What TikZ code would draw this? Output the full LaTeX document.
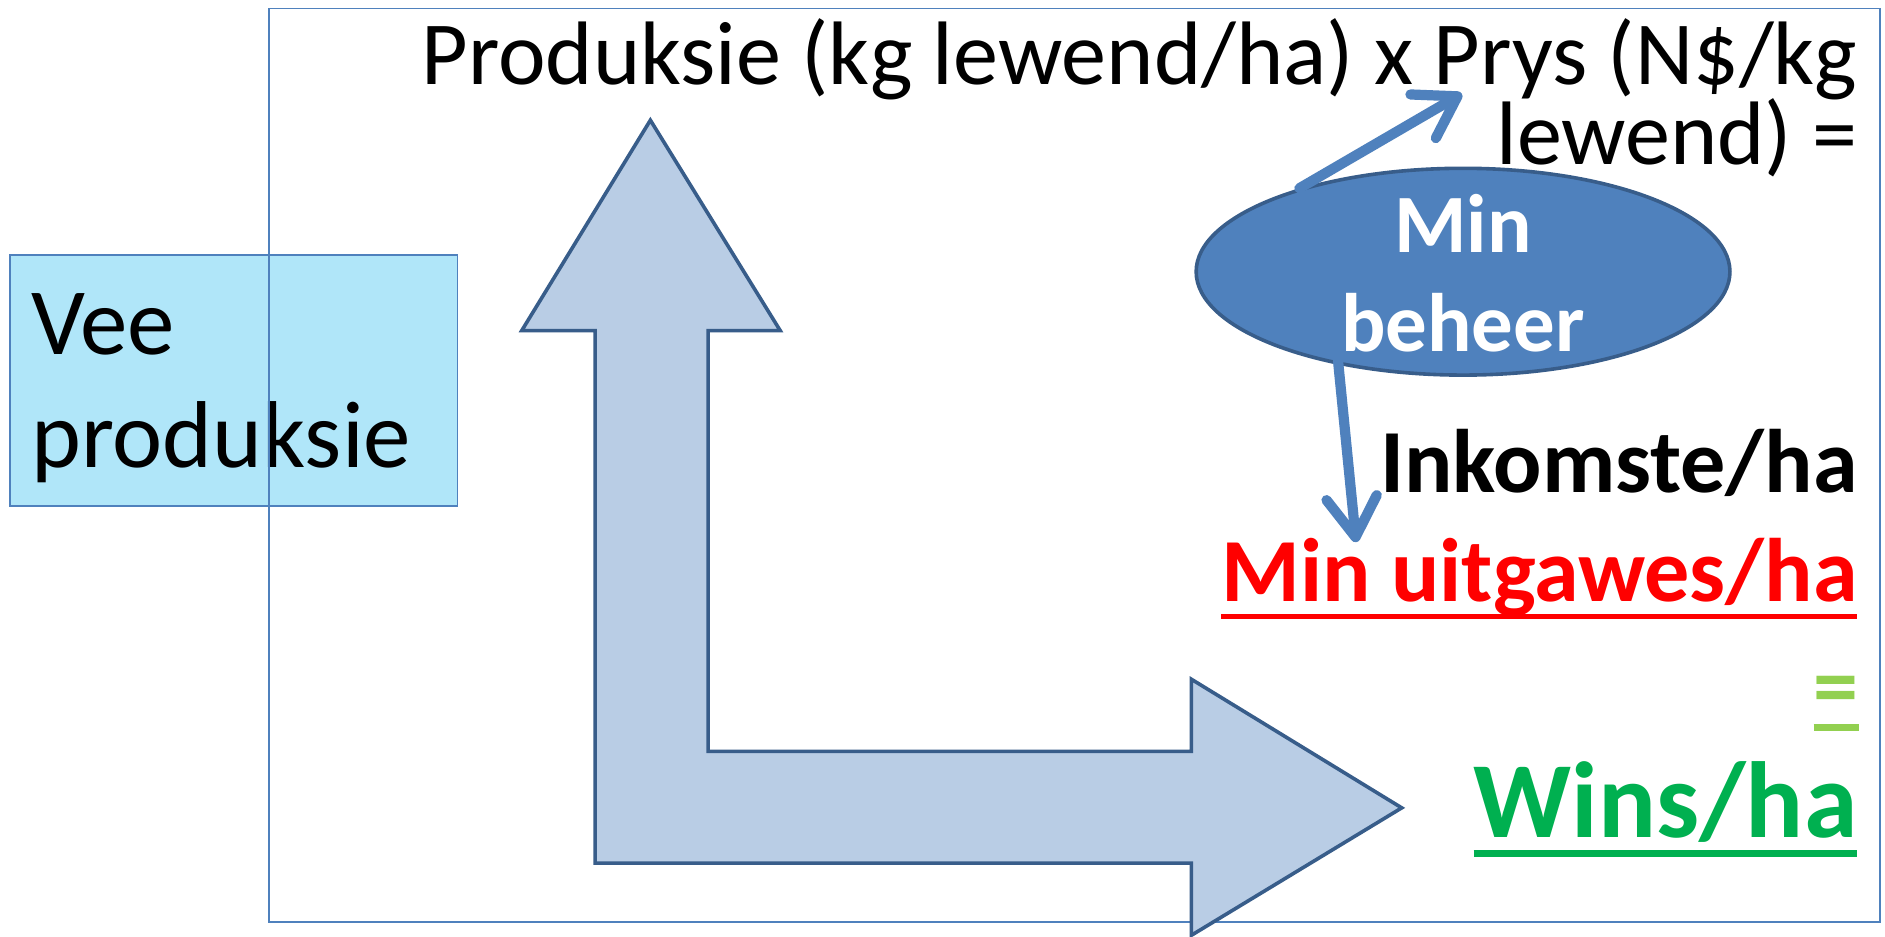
\documentclass[tikz,border=0pt]{standalone}
\usepackage{fontspec}
\setmainfont{Carlito}
\usetikzlibrary{shapes.geometric,arrows.meta}
\definecolor{frameblue}{HTML}{4F81BD}
\definecolor{boxfill}{HTML}{B0E6F9}
\definecolor{arrowfill}{HTML}{B9CDE5}
\definecolor{darkblue}{HTML}{385D8A}
\definecolor{ellfill}{HTML}{4F81BD}
\definecolor{winsgreen}{HTML}{00B050}
\definecolor{eqgreen}{HTML}{92D050}
\definecolor{minred}{HTML}{FF0000}
\begin{document}
\begin{tikzpicture}[x=1pt,y=-1pt,
  lbl/.style={inner sep=0pt, outer sep=0pt},
  regtxt/.style={lbl, font=\fontsize{75}{90}\selectfont},
  veetxt/.style={lbl, font=\fontsize{79}{94}\selectfont, anchor=base west},
  boldtxt/.style={lbl, font=\fontsize{75}{90}\selectfont\bfseries},
  elltxt/.style={lbl, font=\fontsize{69}{82}\selectfont\bfseries, text=white, anchor=base},
  vbox/.style={draw=frameblue, line width=1.5pt, fill=boxfill, inner sep=0pt, minimum width=372pt, minimum height=209pt},
  framebox/.style={draw=frameblue, line width=1.5pt},
  bigarrow/.style={draw=darkblue, line width=3pt, fill=arrowfill, line join=miter},
  ellstyle/.style={ellipse, draw=darkblue, line width=3pt, fill=ellfill, minimum width=444pt, minimum height=172pt, inner sep=0pt},
  thinarrow/.style={draw=frameblue, line width=8.5pt, line cap=round, -{Straight Barb[length=33pt, width=42pt, round]}},
]
\useasboundingbox (0,0) rectangle (1568,779.4);
\fill[white] (0,0) rectangle (1568,779.4);

% Vee produksie box
\node[vbox] (vee) at (194.5,316.5) {};
\node[veetxt] (vee1) at (26,295) {Vee};
\node[veetxt] (vee2) at (26,389) {produksie};

% outer frame
\draw[framebox] (224,7) rectangle (1564,767);

% big bent double arrow
\draw[bigarrow] (541,100) -- (649,275) -- (589,275) -- (589,625) -- (991,625) -- (991,565)
  -- (1166,672) -- (991,778) -- (991,718) -- (495,718) -- (495,275) -- (434,275) -- cycle;

% top formula
\node[regtxt, anchor=base east] (prod1) at (1545,70) {Produksie (kg lewend/ha) x Prys (N\$/kg};
\node[regtxt, anchor=base east] (prod2) at (1545,137) {lewend) =};

% ellipse
\node[ellstyle] (ell) at (1217,226) {};
\node[elltxt] (min) at (1217,210) {Min};
\node[elltxt] (beh) at (1217,292) {beheer};

% income / expenses / profit
\node[boldtxt, anchor=base east] (ink) at (1545,410) {Inkomste/ha};
\node[boldtxt, anchor=base east, text=minred] (uit) at (1545,500) {Min uitgawes/ha};
\draw[minred, line width=4.5pt] ([yshift=-13pt]uit.base west) -- ([yshift=-13pt]uit.base east);
\node[boldtxt, anchor=base east, text=eqgreen] (eq) at (1546,596) {=};
\draw[eqgreen, line width=5.5pt] ([yshift=-9pt]eq.base west) -- ([yshift=-9pt]eq.base east);
\node[lbl, anchor=base east, font=\fontsize{90}{100}\selectfont\bfseries, text=winsgreen] (wins) at (1545,697) {Wins/ha};
\draw[winsgreen, line width=5.5pt] ([yshift=-13pt]wins.base west) -- ([yshift=-13pt]wins.base east);

% small arrows
\coordinate (prystip) at (1216,78);
\coordinate (ellbot) at (1113,300);
\coordinate (uittip) at (1128,451);
\draw[thinarrow] (ell.153) -- (prystip);
\draw[thinarrow] (ellbot) -- (uittip);
\end{tikzpicture}
\end{document}
